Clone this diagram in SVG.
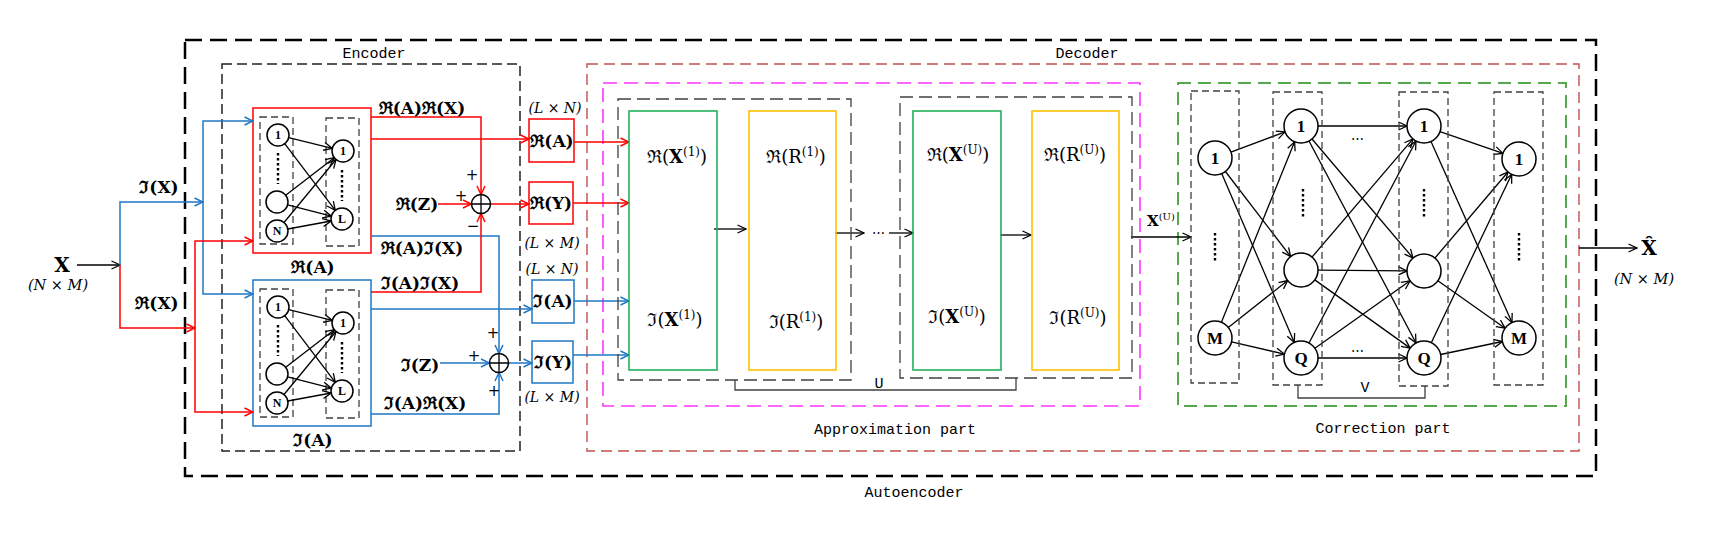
<svg xmlns="http://www.w3.org/2000/svg" width="1716" height="543" viewBox="0 0 1716 543">
<style>
.k{stroke:#000;fill:none;stroke-width:1.3}
.r{stroke:#FF0000;fill:none;stroke-width:1.5}
.b{stroke:#1F77C4;fill:none;stroke-width:1.5}
.nd{fill:#fff;stroke:#000;stroke-width:1.5}
.dots{stroke:#000;stroke-width:2.4;stroke-dasharray:2.4 2.6;fill:none}
.col{fill:none;stroke:#404040;stroke-width:1.3;stroke-dasharray:7 4}
.m{font-family:'DejaVu Serif',serif;font-weight:bold;font-size:17px;text-anchor:middle;fill:#000}
.t{font-family:'DejaVu Serif',serif;font-size:18px;text-anchor:middle;fill:#000}
.mi{font-family:'DejaVu Serif',serif;font-style:italic;font-size:14px;text-anchor:middle;fill:#000}
.mo{font-family:'Liberation Mono',monospace;font-size:15px;text-anchor:middle;fill:#000}
.ns{font-family:'Liberation Serif',serif;font-weight:bold;font-size:12px;text-anchor:middle;fill:#000}
.nc{font-family:'Liberation Serif',serif;font-weight:bold;font-size:17px;text-anchor:middle;fill:#000}
.pm{font-family:'DejaVu Sans',sans-serif;font-size:15px;text-anchor:middle;fill:#000}
</style>
<defs>
<marker id="ak" viewBox="0 0 10 10" refX="9.5" refY="5" markerWidth="10" markerHeight="10" markerUnits="userSpaceOnUse" orient="auto"><path d="M1,1 L9.5,5 L1,9" fill="none" stroke="#000" stroke-width="1.3"/></marker>
<marker id="ar" viewBox="0 0 10 10" refX="9.5" refY="5" markerWidth="10" markerHeight="10" markerUnits="userSpaceOnUse" orient="auto"><path d="M1,1 L9.5,5 L1,9" fill="none" stroke="#FF0000" stroke-width="1.5"/></marker>
<marker id="ab" viewBox="0 0 10 10" refX="9.5" refY="5" markerWidth="10" markerHeight="10" markerUnits="userSpaceOnUse" orient="auto"><path d="M1,1 L9.5,5 L1,9" fill="none" stroke="#1F77C4" stroke-width="1.5"/></marker>
</defs>
<rect width="1716" height="543" fill="#fff"/>

<!-- containers -->
<g id="autoencoder">
<rect x="185" y="40" width="1411" height="436" fill="none" stroke="#000" stroke-width="2.5" stroke-dasharray="17 8"/>
<text class="mo" x="914" y="497">Autoencoder</text>
</g>
<g id="encoder">
<rect x="222" y="64" width="298" height="387" fill="none" stroke="#222" stroke-width="1.5" stroke-dasharray="10 5"/>
<text class="mo" x="374" y="58">Encoder</text>
</g>
<g id="decoder">
<rect x="587" y="64" width="992" height="387" fill="none" stroke="#C0504D" stroke-width="1.4" stroke-dasharray="11 6"/>
<text class="mo" x="1087" y="58">Decoder</text>
</g>
<g id="approximation-part">
<rect x="603" y="83" width="537" height="323" fill="none" stroke="#FF33FF" stroke-width="1.6" stroke-dasharray="14 7"/>
<text class="mo" x="895" y="434">Approximation part</text>
</g>
<g id="correction-part">
<rect x="1178" y="83" width="388" height="323" fill="none" stroke="#55A84B" stroke-width="2" stroke-dasharray="13 7"/>
<text class="mo" x="1383" y="433">Correction part</text>
</g>

<!-- input -->
<g id="input-X">
<text class="m" x="62" y="272" style="font-size:20px">X</text>
<text class="mi" x="58" y="290" style="font-size:14.5px">(N × M)</text>
</g>

<!-- encoder real network -->
<g id="encoder-real">
<rect x="253" y="108" width="118" height="145" fill="none" stroke="#FF0000" stroke-width="1.5"/>
<rect class="col" x="260" y="117" width="33" height="127"/>
<rect class="col" x="326" y="118" width="33" height="128"/>
<g class="k" marker-end="url(#ak)">
<line x1="288.7" y1="137.6" x2="332.3" y2="148.4"/>
<line x1="284.7" y1="143.7" x2="335.3" y2="210.3"/>
<line x1="285.7" y1="195.3" x2="334.3" y2="157.7"/>
<line x1="287.6" y1="204.8" x2="331.4" y2="216.2"/>
<line x1="284" y1="222.5" x2="336" y2="159.5"/>
<line x1="287.8" y1="229" x2="331.2" y2="221"/>
</g>
<circle class="nd" cx="278" cy="135" r="11"/><text class="ns" x="278" y="139">1</text>
<circle class="nd" cx="277" cy="202" r="11"/>
<circle class="nd" cx="277" cy="231" r="11"/><text class="ns" x="277" y="235">N</text>
<circle class="nd" cx="343" cy="151" r="11"/><text class="ns" x="343" y="155">1</text>
<circle class="nd" cx="342" cy="219" r="11"/><text class="ns" x="342" y="223">L</text>
<line class="dots" x1="278" y1="153" x2="278" y2="184"/>
<line class="dots" x1="342" y1="170" x2="342" y2="201"/>
<text class="m" x="313" y="273">ℜ(A)</text>
</g>

<!-- encoder imaginary network -->
<g id="encoder-imag">
<rect x="253" y="280" width="118" height="146" fill="none" stroke="#1F77C4" stroke-width="1.5"/>
<g transform="translate(0,172)">
<rect class="col" x="260" y="117" width="33" height="128"/>
<rect class="col" x="326" y="118" width="33" height="128"/>
<g class="k" marker-end="url(#ak)">
<line x1="288.7" y1="137.6" x2="332.3" y2="148.4"/>
<line x1="284.7" y1="143.7" x2="335.3" y2="210.3"/>
<line x1="285.7" y1="195.3" x2="334.3" y2="157.7"/>
<line x1="287.6" y1="204.8" x2="331.4" y2="216.2"/>
<line x1="284" y1="222.5" x2="336" y2="159.5"/>
<line x1="287.8" y1="229" x2="331.2" y2="221"/>
</g>
<circle class="nd" cx="278" cy="135" r="11"/><text class="ns" x="278" y="139">1</text>
<circle class="nd" cx="277" cy="202" r="11"/>
<circle class="nd" cx="277" cy="231" r="11"/><text class="ns" x="277" y="235">N</text>
<circle class="nd" cx="343" cy="151" r="11"/><text class="ns" x="343" y="155">1</text>
<circle class="nd" cx="342" cy="219" r="11"/><text class="ns" x="342" y="223">L</text>
<line class="dots" x1="278" y1="153" x2="278" y2="184"/>
<line class="dots" x1="342" y1="170" x2="342" y2="201"/>
</g>
<text class="m" x="313" y="446">ℑ(A)</text>
</g>

<!-- connectors -->
<g id="connectors">
<line class="k" x1="77" y1="265" x2="120" y2="265" marker-end="url(#ak)"/>
<path class="b" d="M120,265 V202 H203" marker-end="url(#ab)"/>
<path class="r" d="M120,265 V328 H195" marker-end="url(#ar)"/>
<path class="b" d="M203,202 V121 H253" marker-end="url(#ab)"/>
<path class="b" d="M203,202 V294 H253" marker-end="url(#ab)"/>
<path class="r" d="M195,328 V241 H253" marker-end="url(#ar)"/>
<path class="r" d="M195,328 V412 H253" marker-end="url(#ar)"/>

<path class="r" d="M371,117 H481 V194.5" marker-end="url(#ar)"/>
<path class="r" d="M371,139 H529" marker-end="url(#ar)"/>
<path class="b" d="M371,236 H499 V353.5" marker-end="url(#ab)"/>
<path class="r" d="M371,292 H481 V213.5" marker-end="url(#ar)"/>
<path class="b" d="M371,309 H532" marker-end="url(#ab)"/>
<path class="b" d="M371,414 H499 V372.5" marker-end="url(#ab)"/>
<path class="r" d="M438,204 H471.5" marker-end="url(#ar)"/>
<path class="r" d="M490.5,204 H529" marker-end="url(#ar)"/>
<path class="b" d="M440,363 H489.5" marker-end="url(#ab)"/>
<path class="b" d="M508.5,363 H532" marker-end="url(#ab)"/>

<path class="r" d="M574,142 H629" marker-end="url(#ar)"/>
<path class="r" d="M573,203 H629" marker-end="url(#ar)"/>
<path class="b" d="M574,301 H629" marker-end="url(#ab)"/>
<path class="b" d="M573,355 H629" marker-end="url(#ab)"/>

<line class="k" x1="714" y1="229" x2="746" y2="229" marker-end="url(#ak)"/>
<line class="k" x1="835" y1="233" x2="864" y2="233" marker-end="url(#ak)"/>
<line class="k" x1="889" y1="233" x2="913" y2="233" marker-end="url(#ak)"/>
<line class="k" x1="1000" y1="235" x2="1031" y2="235" marker-end="url(#ak)"/>
<line class="k" x1="1131" y1="237" x2="1191" y2="237" marker-end="url(#ak)"/>
<line class="k" x1="1579" y1="248" x2="1637" y2="248" marker-end="url(#ak)"/>

<path d="M735,380 V390 H1016 V378" fill="none" stroke="#404040" stroke-width="1.3"/>
<path d="M1298,385 V398 H1425 V386" fill="none" stroke="#404040" stroke-width="1.3"/>

<g class="k" marker-end="url(#ak)">
<line x1="1230.9" y1="152.1" x2="1285.1" y2="131.9"/>
<line x1="1225.4" y1="171.5" x2="1290.6" y2="256.5"/>
<line x1="1221.7" y1="173.6" x2="1294.3" y2="342.4"/>
<line x1="1221.4" y1="322.2" x2="1294.6" y2="141.8"/>
<line x1="1228.3" y1="327.5" x2="1287.7" y2="280.5"/>
<line x1="1231.6" y1="341.9" x2="1284.4" y2="354.1"/>
<line x1="1318" y1="126" x2="1407" y2="126"/>
<line x1="1312" y1="139" x2="1413" y2="258"/>
<line x1="1309" y1="141" x2="1416" y2="343"/>
<line x1="1312" y1="257.1" x2="1413" y2="138.9"/>
<line x1="1318" y1="270.1" x2="1407" y2="270.9"/>
<line x1="1314.8" y1="279.9" x2="1410.2" y2="348.1"/>
<line x1="1309" y1="343" x2="1416" y2="141"/>
<line x1="1314.9" y1="348.2" x2="1410.1" y2="280.8"/>
<line x1="1318" y1="358" x2="1407" y2="358"/>
<line x1="1440" y1="131.6" x2="1503" y2="153.4"/>
<line x1="1431" y1="141.5" x2="1512" y2="322.5"/>
<line x1="1435" y1="258" x2="1508" y2="172"/>
<line x1="1437.9" y1="280.8" x2="1505.1" y2="328.2"/>
<line x1="1431.3" y1="342.7" x2="1511.7" y2="174.3"/>
<line x1="1440.6" y1="354.5" x2="1502.4" y2="341.5"/>
</g>
</g>

<!-- encoder labels & sums -->
<g id="encoder-labels">
<text class="m" x="159" y="193">ℑ(X)</text>
<text class="m" x="157" y="309">ℜ(X)</text>
<text class="m" x="422" y="114">ℜ(A)ℜ(X)</text>
<text class="m" x="422" y="254">ℜ(A)ℑ(X)</text>
<text class="m" x="420" y="289">ℑ(A)ℑ(X)</text>
<text class="m" x="425" y="409">ℑ(A)ℜ(X)</text>
</g>
<g id="sum-real">
<circle cx="481" cy="204" r="9.5" fill="none" stroke="#000" stroke-width="1.5"/>
<path d="M471.5,204 H490.5 M481,194.5 V213.5" stroke="#000" stroke-width="1.3"/>
<text class="m" x="417" y="210">ℜ(Z)</text>
<text class="pm" x="472" y="180">+</text>
<text class="pm" x="461" y="201">+</text>
<text class="pm" x="473" y="231">−</text>
</g>
<g id="sum-imag">
<circle cx="499" cy="363" r="9.5" fill="none" stroke="#000" stroke-width="1.5"/>
<path d="M489.5,363 H508.5 M499,353.5 V372.5" stroke="#000" stroke-width="1.3"/>
<text class="m" x="420" y="371">ℑ(Z)</text>
<text class="pm" x="493" y="338">+</text>
<text class="pm" x="474" y="361">+</text>
<text class="pm" x="494" y="396">+</text>
</g>

<g id="RA">
<rect x="529" y="119" width="45" height="43" fill="none" stroke="#FF0000" stroke-width="1.5"/>
<text class="m" x="552" y="147">ℜ(A)</text>
<text class="mi" x="555" y="113">(L × N)</text>
</g>
<g id="RY">
<rect x="529" y="182" width="44" height="42" fill="none" stroke="#FF0000" stroke-width="1.5"/>
<text class="m" x="551" y="209">ℜ(Y)</text>
<text class="mi" x="552" y="248">(L × M)</text>
</g>
<g id="IA">
<rect x="532" y="280" width="42" height="43" fill="none" stroke="#1F77C4" stroke-width="1.5"/>
<text class="m" x="553" y="307">ℑ(A)</text>
<text class="mi" x="552" y="274">(L × N)</text>
</g>
<g id="IY">
<rect x="532" y="341" width="41" height="42" fill="none" stroke="#1F77C4" stroke-width="1.5"/>
<text class="m" x="553" y="368">ℑ(Y)</text>
<text class="mi" x="552" y="402">(L × M)</text>
</g>

<!-- approximation stages -->
<g id="stage-1">
<rect x="618" y="99" width="233" height="281" fill="none" stroke="#404040" stroke-width="1.3" stroke-dasharray="13 6"/>
<rect x="629" y="111" width="88" height="259" fill="none" stroke="#22B15A" stroke-width="1.6"/>
<rect x="749" y="111" width="87" height="259" fill="none" stroke="#FFC000" stroke-width="1.6"/>
<text class="t" x="677" y="163">ℜ(<tspan font-weight="bold">X</tspan><tspan font-size="12" dy="-7">(1)</tspan><tspan dy="7">)</tspan></text>
<text class="t" x="675" y="326">ℑ(<tspan font-weight="bold">X</tspan><tspan font-size="12" dy="-7">(1)</tspan><tspan dy="7">)</tspan></text>
<text class="t" x="796" y="163">ℜ(R<tspan font-size="12" dy="-7">(1)</tspan><tspan dy="7">)</tspan></text>
<text class="t" x="796" y="328">ℑ(R<tspan font-size="12" dy="-7">(1)</tspan><tspan dy="7">)</tspan></text>
</g>
<g id="ellipsis">
<text class="t" x="878" y="237" style="font-size:13px">⋯</text>
</g>
<g id="stage-U">
<rect x="900" y="97" width="232" height="281" fill="none" stroke="#404040" stroke-width="1.3" stroke-dasharray="13 6"/>
<rect x="913" y="111" width="88" height="259" fill="none" stroke="#22B15A" stroke-width="1.6"/>
<rect x="1032" y="111" width="87" height="259" fill="none" stroke="#FFC000" stroke-width="1.6"/>
<text class="t" x="958" y="161">ℜ(<tspan font-weight="bold">X</tspan><tspan font-size="12" dy="-7">(U)</tspan><tspan dy="7">)</tspan></text>
<text class="t" x="957" y="323">ℑ(<tspan font-weight="bold">X</tspan><tspan font-size="12" dy="-7">(U)</tspan><tspan dy="7">)</tspan></text>
<text class="t" x="1075" y="161">ℜ(R<tspan font-size="12" dy="-7">(U)</tspan><tspan dy="7">)</tspan></text>
<text class="t" x="1078" y="324">ℑ(R<tspan font-size="12" dy="-7">(U)</tspan><tspan dy="7">)</tspan></text>
</g>
<g id="U-label"><text class="mo" x="879" y="388">U</text></g>
<g id="XU-label"><text class="m" x="1161" y="226" style="font-size:15px">X<tspan font-weight="normal" font-size="10" dy="-6">(U)</tspan></text></g>

<!-- correction network -->
<g id="corr-col1">
<rect class="col" x="1191" y="91" width="48" height="292"/>
<circle class="nd" cx="1215" cy="158" r="17"/><text class="nc" x="1215" y="164">1</text>
<line class="dots" x1="1215" y1="233" x2="1215" y2="263"/>
<circle class="nd" cx="1215" cy="338" r="17"/><text class="nc" x="1215" y="344">M</text>
</g>
<g id="corr-col2">
<rect class="col" x="1273" y="92" width="49" height="293"/>
<circle class="nd" cx="1301" cy="126" r="17"/><text class="nc" x="1301" y="132">1</text>
<line class="dots" x1="1303" y1="189" x2="1303" y2="219"/>
<circle class="nd" cx="1301" cy="270" r="17"/>
<circle class="nd" cx="1301" cy="358" r="17"/><text class="nc" x="1301" y="364">Q</text>
</g>
<g id="corr-col3">
<rect class="col" x="1399" y="92" width="49" height="294"/>
<circle class="nd" cx="1424" cy="126" r="17"/><text class="nc" x="1424" y="132">1</text>
<line class="dots" x1="1424" y1="189" x2="1424" y2="219"/>
<circle class="nd" cx="1424" cy="271" r="17"/>
<circle class="nd" cx="1424" cy="358" r="17"/><text class="nc" x="1424" y="364">Q</text>
</g>
<g id="corr-col4">
<rect class="col" x="1494" y="92" width="49" height="293"/>
<circle class="nd" cx="1519" cy="159" r="17"/><text class="nc" x="1519" y="165">1</text>
<line class="dots" x1="1519" y1="233" x2="1519" y2="263"/>
<circle class="nd" cx="1519" cy="338" r="17"/><text class="nc" x="1519" y="344">M</text>
</g>
<g id="corr-dots">
<text class="t" x="1357" y="143" style="font-size:13px">⋯</text>
<text class="t" x="1357" y="355" style="font-size:13px">⋯</text>
</g>
<g id="V-label"><text class="mo" x="1365" y="392">V</text></g>

<g id="output-X">
<text class="m" x="1649" y="255" style="font-size:20px">X̂</text>
<text class="mi" x="1644" y="284" style="font-size:14.5px">(N × M)</text>
</g>
</svg>
